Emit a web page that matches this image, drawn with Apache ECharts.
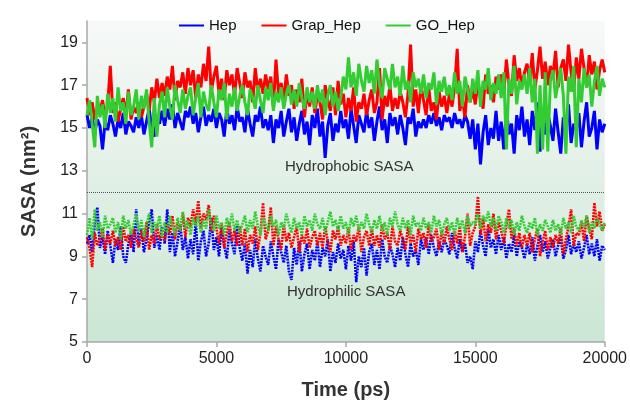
<!DOCTYPE html>
<html>
<head>
<meta charset="utf-8">
<script src="https://cdn.jsdelivr.net/npm/echarts@6/dist/echarts.min.js"></script>
<style>
  html, body { margin: 0; padding: 0; background: #fff; }
  #main { width: 630px; height: 407px; }
</style>
</head>
<body>
<div id="main"></div>
<script>
// time step of the sampled trajectory (ps)
const timeStep = 100;

// hydrophobic SASA (nm^2), one row per 1000 ps
const phobicHep = [
  15.6,15.0,15.5,14.8,15.4,15.1,14.0,15.3,14.9,15.6,
  15.2,14.6,15.4,15.0,15.7,14.7,15.3,15.1,14.8,15.5,
  15.0,15.6,14.7,15.3,15.9,15.0,14.6,15.4,15.2,15.8,
  15.1,15.9,15.4,16.1,15.0,15.7,15.3,14.9,15.8,15.5,
  16.0,15.2,15.7,14.8,15.5,16.0,15.1,15.6,15.3,15.9,
  15.0,15.7,15.4,14.6,15.9,15.2,15.6,14.9,16.0,15.3,
  15.5,14.8,15.9,15.2,14.6,15.6,15.3,16.0,15.0,15.4,
  14.9,15.6,14.3,15.4,15.0,15.8,14.6,15.3,15.9,14.8,
  15.5,14.4,15.2,15.8,14.7,15.3,14.2,15.6,15.0,15.9,
  14.6,15.3,13.6,15.1,15.7,14.4,15.2,14.8,15.8,15.0,
  15.4,14.5,15.9,15.1,14.3,15.6,15.2,14.8,15.8,15.0,
  15.5,14.4,15.3,16.0,14.9,15.4,14.3,15.7,15.1,15.5,
  14.7,15.6,15.0,14.2,15.5,15.2,15.9,14.6,15.3,15.0,
  15.4,15.0,15.6,15.2,15.7,15.1,15.5,14.9,15.6,15.3,
  15.5,15.0,15.7,15.2,15.4,15.0,15.6,15.3,14.5,15.4,
  14.0,15.2,13.3,14.8,15.6,14.2,15.0,14.5,15.8,14.4,
  15.3,14.0,15.9,14.7,15.2,13.8,15.6,14.9,16.0,14.6,
  15.4,14.2,15.8,14.9,16.2,13.9,15.3,14.7,15.7,15.1,
  14.4,15.9,14.8,13.8,15.5,15.0,16.1,14.3,15.2,14.9,
  15.7,14.1,15.3,16.2,14.6,15.0,15.8,14.0,15.4,14.8,
  15.2
];
const phobicGrap = [
  16.4,15.6,16.2,15.4,16.0,15.8,16.3,15.5,16.1,17.9,
  15.7,16.2,15.3,15.9,16.4,15.6,16.8,15.4,16.0,15.7,
  16.2,15.5,16.0,16.6,15.8,16.9,16.2,17.3,16.4,17.1,
  16.5,17.4,16.8,17.9,16.3,17.2,16.9,17.6,16.6,17.8,
  17.0,17.7,16.4,17.5,16.9,18.0,17.2,18.8,16.7,17.4,
  17.9,16.6,17.3,16.3,17.7,17.0,17.5,16.5,17.8,17.1,
  16.4,17.6,16.9,17.2,16.2,17.8,16.7,17.3,16.6,17.5,
  16.8,17.4,16.0,18.2,16.6,17.1,16.3,17.5,16.5,17.0,
  15.9,16.8,16.2,17.3,15.5,16.7,16.0,16.9,15.7,16.5,
  16.2,15.4,17.0,16.3,15.8,16.9,15.6,17.2,16.1,16.6,
  15.5,16.4,15.8,16.9,15.3,16.2,15.9,16.6,15.6,16.3,
  16.8,15.7,16.2,17.8,15.4,16.5,16.0,17.0,15.8,16.4,
  15.9,16.7,16.2,15.5,16.6,18.9,16.0,16.8,15.7,17.0,
  16.3,15.6,16.9,15.8,16.2,15.4,16.7,16.0,16.5,15.7,
  16.6,16.0,16.9,18.7,15.8,16.4,15.5,17.0,16.2,16.8,
  16.1,17.2,16.4,15.9,17.5,16.6,17.0,16.2,17.4,16.8,
  17.5,16.6,18.2,17.0,16.5,18.4,17.2,17.8,16.9,17.6,
  18.0,17.1,18.5,16.8,17.7,18.8,17.3,18.1,17.0,17.9,
  17.4,18.6,16.9,17.8,18.2,17.2,18.9,17.6,16.7,18.3,
  17.3,18.7,17.8,16.9,18.4,17.5,18.1,16.8,17.7,18.2,
  17.6
];
const phobicGO = [
  15.6,16.3,15.2,14.1,16.5,15.5,16.1,15.0,16.6,15.7,
  16.4,15.3,16.9,15.8,16.2,15.2,16.7,15.6,16.0,16.8,
  15.4,16.5,15.9,16.8,15.3,14.1,16.4,14.6,16.1,16.7,
  15.5,16.9,16.0,15.4,17.0,16.3,15.7,16.8,15.9,16.5,
  16.9,15.6,16.4,17.1,15.5,16.7,16.1,15.8,17.0,16.2,
  15.5,16.8,16.3,17.1,15.4,16.6,16.0,16.9,15.8,16.5,
  17.0,16.2,15.6,16.8,16.4,15.9,17.0,16.3,15.7,16.9,
  16.3,17.1,15.8,16.7,16.2,16.9,15.9,16.6,17.0,16.1,
  16.8,16.0,17.1,16.4,15.9,16.9,16.2,16.7,15.9,17.0,
  16.2,16.8,15.6,16.5,17.0,16.0,16.7,15.8,16.4,17.4,
  16.8,18.3,16.9,17.6,16.5,18.0,17.2,16.7,17.9,17.1,
  17.7,16.6,18.2,17.0,16.4,17.8,17.3,16.8,18.0,16.9,
  17.4,16.5,17.9,16.8,17.2,16.2,17.6,16.9,17.3,16.6,
  17.5,16.4,17.1,16.8,17.6,16.1,17.2,16.7,17.4,16.5,
  17.0,16.3,17.6,16.6,17.2,16.0,17.4,16.8,16.2,17.3,
  16.6,17.7,16.0,17.2,16.8,17.8,16.3,17.1,16.6,17.5,
  16.4,17.6,14.0,17.3,16.6,17.9,16.1,17.2,16.8,17.5,
  16.6,17.8,16.2,17.3,13.8,17.0,14.0,17.6,13.9,17.2,
  17.7,16.4,17.1,17.8,16.5,13.8,17.4,16.7,17.9,14.1,
  17.3,16.2,17.8,16.9,17.5,16.0,17.2,17.9,16.5,17.3,
  16.9
];

// hydrophilic SASA (nm^2)
const philicHep = [
  9.6,10.0,9.2,10.5,11.3,9.4,9.9,9.1,10.2,9.5,
  8.7,9.8,9.3,10.4,9.0,8.7,9.6,10.1,9.2,11.2,
  9.5,10.3,9.2,9.8,10.6,11.2,9.4,10.0,9.3,10.4,
  9.6,11.2,9.2,10.1,9.0,9.7,10.5,9.3,9.9,8.9,
  9.8,9.1,10.6,8.8,9.7,10.2,9.0,9.6,10.8,9.3,
  9.9,9.0,10.4,9.5,8.9,10.2,9.6,9.1,10.5,9.4,
  8.8,9.6,8.2,9.3,8.5,9.8,8.9,8.3,9.5,9.0,
  8.6,9.7,9.0,8.4,9.8,9.2,8.7,9.5,8.3,7.9,
  9.4,8.6,9.7,8.3,9.1,9.6,8.4,9.3,8.8,9.7,
  8.5,9.4,9.0,9.8,8.3,9.2,8.7,9.6,8.9,9.3,
  8.4,9.5,8.8,9.7,7.8,9.0,8.5,9.4,8.1,9.2,
  9.6,8.6,9.3,8.4,9.8,9.0,8.7,9.5,9.1,8.5,
  9.4,8.8,9.9,9.1,8.5,9.6,9.0,9.3,8.6,9.8,
  9.3,9.9,9.1,10.0,9.4,9.0,9.7,9.2,9.8,9.5,
  9.1,10.1,9.4,8.9,9.8,9.2,9.6,8.7,9.0,8.4,
  9.7,9.2,10.2,9.5,9.0,10.3,9.4,9.8,9.1,10.0,
  9.3,9.9,8.9,9.6,9.2,10.0,9.0,9.7,9.4,8.9,
  9.6,9.1,9.9,8.8,9.5,10.0,9.2,9.7,8.9,9.4,
  9.8,9.0,9.5,9.9,8.9,9.3,10.0,9.1,9.6,9.2,
  9.7,8.9,9.4,10.0,9.1,9.6,9.0,9.8,8.8,9.5,
  9.3
];
const philicGrap = [
  9.9,9.4,8.5,10.1,9.5,9.8,10.3,9.3,10.0,9.6,
  10.2,9.5,9.9,9.3,10.4,9.7,10.0,9.4,10.3,9.8,
  9.4,10.2,9.7,10.6,9.3,10.0,9.6,10.5,9.8,10.1,
  9.7,10.5,10.0,10.9,9.8,10.6,10.2,11.0,9.9,10.8,
  10.4,11.2,10.6,11.6,10.3,11.0,10.7,11.4,10.2,10.9,
  10.3,9.6,10.5,9.4,10.1,10.6,9.7,10.2,9.5,10.4,
  9.5,10.3,9.2,10.0,9.6,10.4,9.3,10.1,11.5,9.8,
  10.2,11.3,9.5,10.4,9.8,9.3,10.5,9.7,10.1,9.4,
  9.9,10.4,9.2,10.0,9.6,10.3,9.4,9.9,10.2,9.5,
  10.1,9.4,10.4,9.7,9.2,10.2,9.8,10.4,9.5,10.0,
  9.6,10.3,9.3,10.0,9.7,10.4,9.2,9.9,10.2,9.5,
  10.3,9.5,10.0,9.4,10.5,9.8,10.1,9.3,10.4,9.7,
  9.5,10.2,9.8,9.3,10.4,9.6,10.0,9.2,10.3,9.8,
  10.1,9.4,10.5,9.7,9.9,10.3,9.3,10.2,9.6,10.4,
  9.8,9.3,10.2,9.6,10.4,9.2,9.9,11.0,9.5,10.1,
  10.4,11.8,10.0,10.8,9.7,10.5,10.1,11.0,9.8,10.6,
  10.2,9.6,10.5,11.2,9.8,10.3,9.5,10.1,9.4,10.0,
  9.5,10.1,9.2,9.8,10.3,9.0,9.7,10.2,9.3,9.9,
  9.4,10.0,9.6,10.3,9.1,9.8,10.4,11.2,9.5,10.1,
  10.0,10.6,9.7,10.9,10.3,9.8,11.5,10.4,11.1,10.2,
  10.5
];
const philicGO = [
  10.0,10.8,9.8,11.2,10.2,10.6,9.9,10.9,10.3,10.5,
  10.8,10.1,10.6,9.8,10.9,10.3,10.7,10.0,10.5,11.0,
  10.2,10.7,9.9,10.5,11.0,10.1,10.6,10.3,10.9,9.9,
  10.6,10.1,10.9,10.4,10.0,10.8,10.2,11.1,10.3,10.7,
  10.0,10.8,10.4,10.9,10.1,10.7,10.3,11.2,10.5,10.2,
  10.9,10.3,10.6,10.0,10.8,10.4,11.0,10.2,10.7,10.1,
  10.5,10.9,10.1,10.7,10.3,11.1,10.4,10.0,10.8,10.5,
  10.2,10.9,10.4,10.7,10.0,10.6,10.3,11.0,10.5,10.1,
  10.8,10.3,10.6,10.0,10.9,10.4,10.7,10.2,11.0,10.5,
  10.3,10.8,10.1,10.6,11.1,10.4,10.7,10.2,10.9,10.3,
  10.6,10.0,10.8,10.4,10.9,10.2,10.6,10.3,11.0,10.5,
  10.1,10.7,10.3,10.9,10.2,10.6,10.0,10.8,10.4,11.1,
  10.5,10.2,10.8,10.3,10.7,10.0,10.9,10.4,10.6,10.2,
  10.8,10.3,10.6,10.1,10.9,10.4,10.7,10.0,10.5,10.8,
  10.2,10.6,10.0,10.8,10.3,10.7,10.1,10.9,10.4,10.6,
  10.5,11.0,10.3,10.9,10.6,11.1,10.4,10.8,10.2,10.9,
  10.6,10.1,10.8,10.3,10.7,10.0,10.6,10.2,10.9,10.4,
  10.1,10.6,10.3,10.8,10.0,10.5,10.2,10.7,10.4,10.1,
  10.7,10.2,10.5,10.0,10.8,10.3,10.6,10.1,10.9,10.4,
  10.2,10.7,10.4,10.9,10.1,10.6,10.3,10.8,10.5,10.2,
  10.6
];

const seriesNames = ["Hep", "Grap_Hep", "GO_Hep"];
const seriesColors = ["#0000ff", "#ff0000", "#33cc33"];
const yTicks = [5, 7, 9, 11, 13, 15, 17, 19];
const dividerValue = 12;

const font = "'Liberation Sans', Arial, sans-serif";

function pairs(values) {
  return values.map((v, i) => [i * timeStep, v]);
}

function makeSeries(idx, values, dotted) {
  return {
    name: seriesNames[idx],
    type: "line",
    data: pairs(values),
    showSymbol: false,
    symbol: "none",
    color: seriesColors[idx],
    lineStyle: {
      width: dotted ? 2.6 : 3,
      type: dotted ? [2, 1] : "solid",
      color: seriesColors[idx],
      join: "bevel"
    },
    z: 2 + idx,
    animation: false
  };
}

const chart = echarts.init(document.getElementById("main"));

const series = [
  makeSeries(0, phobicHep, false),
  makeSeries(1, phobicGrap, false),
  makeSeries(2, phobicGO, false),
  makeSeries(0, philicHep, true),
  makeSeries(1, philicGrap, true),
  makeSeries(2, philicGO, true)
];
// dotted divider between the two groups
series[0].markLine = {
  silent: true,
  symbol: "none",
  label: { show: false },
  lineStyle: { type: "dotted", color: "#555", width: 1 },
  data: [{ yAxis: dividerValue }]
};

const option = {
  animation: false,
  backgroundColor: "#ffffff",
  grid: {
    left: 87, right: 24, top: 21, bottom: 65,
    show: true,
    borderWidth: 0,
    backgroundColor: new echarts.graphic.LinearGradient(0, 0, 0, 1, [
      { offset: 0, color: "#f7f9f8" },
      { offset: 1, color: "#cbe6d4" }
    ])
  },
  legend: {
    data: seriesNames,
    left: 174,
    top: 13,
    itemGap: 25,
    itemWidth: 25,
    itemHeight: 2,
    icon: "rect",
    textStyle: { fontFamily: font, fontSize: 15, color: "#111" }
  },
  xAxis: {
    type: "value",
    min: 0,
    max: 20000,
    interval: 5000,
    name: "Time (ps)",
    nameLocation: "middle",
    nameGap: 38,
    nameTextStyle: { fontFamily: font, fontSize: 20, fontWeight: "bold", color: "#333" },
    axisLine: { show: true, lineStyle: { color: "#a8a8a8", width: 1.5 } },
    axisTick: { show: true, length: 5, lineStyle: { color: "#a8a8a8", width: 1.5 } },
    axisLabel: { fontFamily: font, fontSize: 16, color: "#222", margin: 9, formatter: v => String(v) },
    splitLine: { show: false }
  },
  yAxis: {
    type: "value",
    min: 5,
    max: 20,
    interval: 2,
    name: "SASA (nm²)",
    nameLocation: "middle",
    nameGap: 48,
    nameTextStyle: { fontFamily: font, fontSize: 20, fontWeight: "bold", color: "#333" },
    axisLine: { show: true, lineStyle: { color: "#a8a8a8", width: 1.5 } },
    axisTick: { show: true, length: 5, lineStyle: { color: "#a8a8a8", width: 1.5 } },
    axisLabel: {
      fontFamily: font, fontSize: 16, color: "#222", margin: 9,
      showMaxLabel: false,
      formatter: v => (yTicks.indexOf(v) >= 0 ? String(v) : "")
    },
    splitLine: { show: false }
  },
  graphic: [
    {
      type: "text", left: 285, top: 159, silent: true,
      style: { text: "Hydrophobic SASA", fontFamily: font, fontSize: 15, fill: "#333" }
    },
    {
      type: "text", left: 287, top: 284, silent: true,
      style: { text: "Hydrophilic SASA", fontFamily: font, fontSize: 15, fill: "#333" }
    }
  ],
  series: series
};

option && chart.setOption(option);
</script>
</body>
</html>
